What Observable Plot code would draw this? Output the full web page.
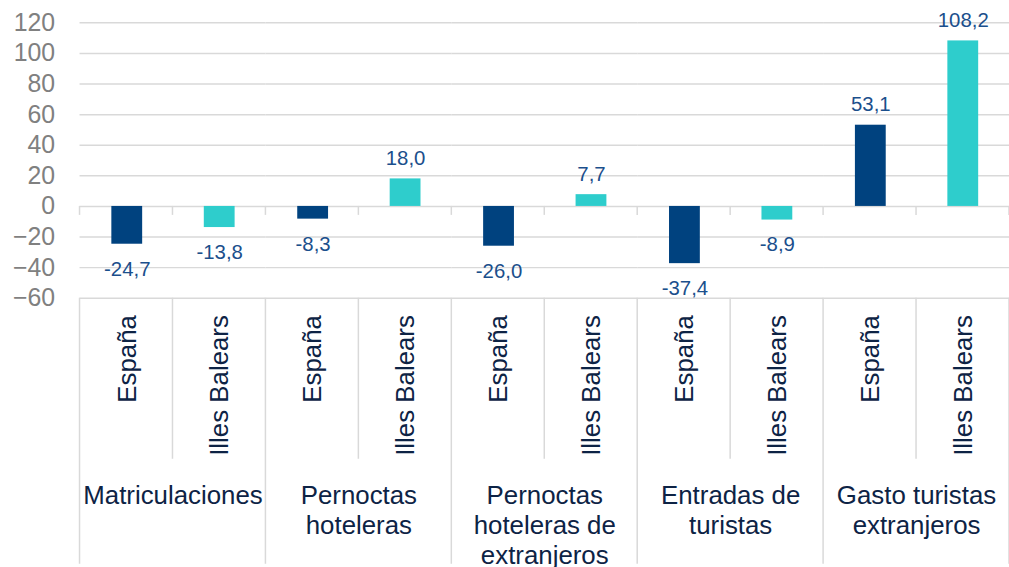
<!DOCTYPE html>
<html><head><meta charset="utf-8">
<script src="https://cdn.jsdelivr.net/npm/d3@7"></script>
<script src="https://cdn.jsdelivr.net/npm/@observablehq/plot@0.6"></script>
<style>
html,body{margin:0;padding:0;overflow:hidden;background:#fff;width:1009px;height:567px}
</style></head><body><div id="chart"></div>
<script>
const groups = ["Matriculaciones","Pernoctas\nhoteleras","Pernoctas\nhoteleras de\nextranjeros","Entradas de\nturistas","Gasto turistas\nextranjeros"];
const regions = ["España","Illes Balears"];
const espana = [-24.7,-8.3,-26.0,-37.4,53.1];
const baleares = [-13.8,18.0,7.7,-8.9,108.2];
const yTicks = [-60,-40,-20,0,20,40,60,80,100,120];
const colors = ["#00427f","#2ecdcc"];
const data = groups.flatMap((g,i)=>[{group:g,region:regions[0],value:espana[i]},{group:g,region:regions[1],value:baleares[i]}]);
const fmt = v => v.toFixed(1).replace(".",",");
const labelColor = "#1b4f8c";
const catColor = "#0d2345";
const plot = Plot.plot({
  width:1015, height:567, marginLeft:79, marginRight:0, marginTop:22.5, marginBottom:267.5,
  style:{fontFamily:"'Liberation Sans', Arial, sans-serif", background:"white", overflow:"visible"},
  fx:{domain:groups, padding:0, label:null},
  x:{domain:regions, paddingInner:0.669, paddingOuter:0.3345, label:null},
  y:{domain:[-60,120], label:null},
  color:{domain:regions, range:colors},
  marks:[
    Plot.gridY(yTicks,{stroke:"#d9d9d9", strokeOpacity:1, strokeWidth:1.5}),
    Plot.axisY(yTicks,{tickSize:0, tickPadding:25, fontSize:25, fill:"#808080", label:null}),
    Plot.barY(data,{fx:"group", x:"region", y:"value", fill:"region"}),
    Plot.text(data.filter(d=>d.value>=0),{fx:"group",x:"region",y:"value",text:d=>fmt(d.value),lineAnchor:"bottom",dy:-14,fill:labelColor,fontSize:20.5}),
    Plot.text(data.filter(d=>d.value<0),{fx:"group",x:"region",y:"value",text:d=>fmt(d.value),lineAnchor:"top",dy:17,fill:labelColor,fontSize:20.5}),
    Plot.axisX({anchor:"bottom", tickSize:0, tickPadding:17, tickRotate:-90, textAnchor:"end", lineAnchor:"middle", fontSize:26, fill:catColor, label:null}),
    Plot.axisFx({anchor:"bottom", tickSize:0, tickPadding:186, lineAnchor:"top", fontSize:26, lineHeight:1.15, fill:catColor, label:null})
  ]
});
document.getElementById("chart").appendChild(plot);
const fx = plot.scale("fx"), y = plot.scale("y");
const svg = d3.select(plot.tagName.toLowerCase()==="svg" ? plot : plot.querySelector("svg"));
const lines = svg.append("g").attr("stroke","#d9d9d9").attr("stroke-width",1.5);
const y0 = y.apply(0), yb = y.apply(-60), H = 567;
groups.forEach((gr,i)=>{
  const l = fx.apply(gr), w = fx.bandwidth;
  const xs = [[l,true],[l+w/2,false]];
  if (i===groups.length-1) xs.push([l+w,true]);
  xs.forEach(([xx,full])=>{
    lines.append("line").attr("x1",xx).attr("x2",xx).attr("y1",y0).attr("y2",y0+9);
    lines.append("line").attr("x1",xx).attr("x2",xx).attr("y1",yb).attr("y2",full?H:yb+162);
  });
});
</script></body></html>
